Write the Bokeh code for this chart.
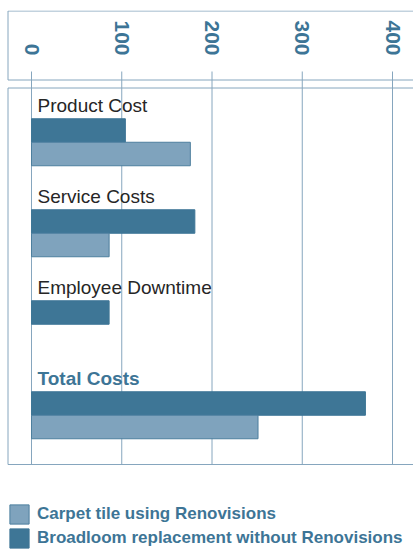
import math
from bokeh.plotting import figure
from bokeh.models import (Range1d, FixedTicker, Legend, LegendItem, ColumnDataSource)
from bokeh.embed import file_html
from bokeh.resources import INLINE
from bokeh.core.properties import value

# ---- data ----
categories = ["Product Cost", "Service Costs", "Employee Downtime", "Total Costs"]
broadloom = [104, 181, 86, 370]     # Broadloom replacement without Renovisions
carpet_tile = [176, 86, 0, 251]     # Carpet tile using Renovisions
x_ticks = [0, 100, 200, 300, 400]
tick_labels = ["0", "100", "200", "300", "400"]
series_names = ["Carpet tile using Renovisions",
                "Broadloom replacement without Renovisions"]

# ---- styling ----
DARK = "#3e7696"
LIGHT = "#7fa3bd"
LIGHT_EDGE = "#4d7f9e"
LINE = "#86a6be"
TEXT_BLUE = "#3d7596"
TEXT_DARK = "#262626"
FONT = "Liberation Sans"

W, H = 413, 550
PX_X = 0.9025          # px per unit on x
X0 = 31                # px of x = 0
x_start = -X0 / PX_X
x_end = (W - X0) / PX_X

STEP = 91.0            # px per category step
FRAME_TOP = 10
y_top = -(130 - FRAME_TOP) / STEP
y_bottom = y_top + (H - FRAME_TOP) / STEP


def py(px):
    """canvas pixel row -> data y"""
    return y_top + (px - FRAME_TOP) / STEP


bar_h = 23.5 / STEP
box_left = (7.5 - X0) / PX_X
box_right = x_end + 60

p = figure(width=W, height=H, output_backend="svg", toolbar_location=None,
           x_range=Range1d(x_start, x_end), y_range=Range1d(y_bottom, y_top),
           x_axis_location="above",
           min_border_left=0, min_border_right=0,
           min_border_top=FRAME_TOP, min_border_bottom=0)
p.outline_line_color = None
p.background_fill_color = "white"
p.border_fill_color = "white"
p.xgrid.visible = False
p.ygrid.visible = False
p.yaxis.visible = False

# x axis: labels pulled down into the top box
ax = p.xaxis[0]
ax.ticker = FixedTicker(ticks=x_ticks)
ax.major_label_overrides = {t: l for t, l in zip(x_ticks, tick_labels)}
ax.axis_line_color = None
ax.major_tick_out = 0
ax.major_tick_in = 0
ax.minor_tick_out = 0
ax.minor_tick_in = 0
ax.major_tick_line_color = None
ax.minor_tick_line_color = None
ax.major_label_orientation = -math.pi / 2
ax.major_label_standoff = -45
ax.major_label_text_font = FONT
ax.major_label_text_font_size = "21px"
ax.major_label_text_font_style = "bold"
ax.major_label_text_color = TEXT_BLUE

# top box (axis box) and lower box (plot box)
p.quad(left=[box_left, box_left], right=[box_right, box_right],
       top=[py(10.5), py(87.5)], bottom=[py(79.5), py(464)],
       fill_color=None, line_color=LINE, line_width=1)

# tick / grid lines
p.segment(x0=x_ticks, y0=[py(71)] * len(x_ticks), x1=x_ticks,
          y1=[py(464)] * len(x_ticks), line_color=LINE, line_width=1)

idx = list(range(len(categories)))
dark_src = ColumnDataSource(dict(y=idx, v=broadloom))
light_src = ColumnDataSource(dict(y=[i + bar_h for i in idx], v=carpet_tile,
                                  edge_alpha=[1.0 if v > 0 else 0.0 for v in carpet_tile]))

dark = p.hbar(y="y", left=0, right="v", height=bar_h, source=dark_src,
              fill_color=DARK, line_color=DARK, line_width=1)
light = p.hbar(y="y", left=0, right="v", height=bar_h, source=light_src,
               fill_color=LIGHT, line_color=LIGHT_EDGE, line_width=1,
               line_alpha="edge_alpha")

n = len(categories)
lab_src = ColumnDataSource(dict(
    x=[0] * n,
    y=[i - 25 / STEP for i in idx],
    text=categories,
    color=[TEXT_DARK] * (n - 1) + [TEXT_BLUE],
    style=["normal"] * (n - 1) + ["bold"],
))
p.text(x="x", y="y", text="text", source=lab_src, x_offset=6,
       text_baseline="alphabetic", text_align="left",
       text_font=value(FONT), text_font_size="19px",
       text_color="color", text_font_style="style")

legend = Legend(items=[LegendItem(label=series_names[0], renderers=[light], index=0),
                       LegendItem(label=series_names[1], renderers=[dark], index=0)],
                location=(7, 0), orientation="vertical", spacing=0, padding=0,
                margin=0, glyph_width=24, glyph_height=24, label_standoff=6,
                label_height=24, label_text_font=FONT,
                label_text_font_size="17px", label_text_font_style="bold",
                label_text_color=TEXT_BLUE, border_line_color=None,
                background_fill_alpha=0)
p.add_layout(legend)

open("out.html", "w").write(file_html(p, INLINE))
